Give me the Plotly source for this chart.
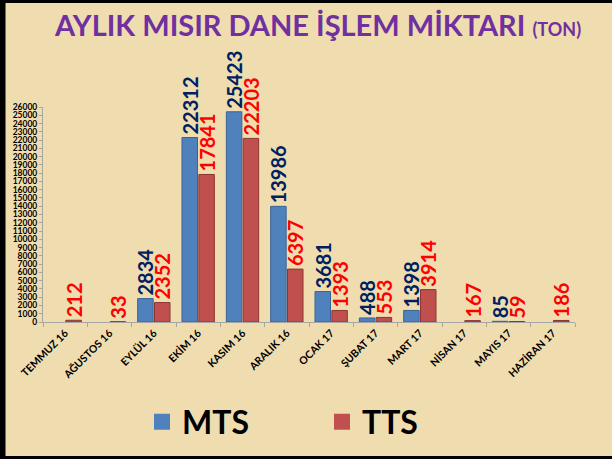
import plotly.graph_objects as go

months = ["TEMMUZ 16", "AĞUSTOS 16", "EYLÜL 16", "EKİM 16", "KASIM 16", "ARALIK 16",
          "OCAK 17", "ŞUBAT 17", "MART 17", "NİSAN 17", "MAYIS 17", "HAZİRAN 17"]
mts = [None, None, 2834, 22312, 25423, 13986, 3681, 488, 1398, None, 85, None]
tts = [212, 33, 2352, 17841, 22203, 6397, 1393, 553, 3914, 167, 59, 186]
y_ticks = list(range(0, 26001, 1000))

W, H = 612, 462
ML, MR, MT, MB = 43, 37, 107, 140
PW, PH = W - ML - MR, H - MT - MB

def px(x):
    return (x - ML) / PW

def py(y):
    return (H - MB - y) / PH

FONT = "Lato"
BLUE, RED = "#4F81BD", "#C0504D"

fig = go.Figure()
fig.add_trace(go.Bar(
    x=months, y=mts, name="MTS", marker=dict(color=BLUE, line=dict(color="#3A6496", width=1)),
    text=[f"{v}" if v is not None else "" for v in mts], textposition="outside", textangle=-90,
    textfont=dict(family=FONT, size=20, color="#002060", weight="bold"), cliponaxis=False,
    constraintext="none", showlegend=False))
fig.add_trace(go.Bar(
    x=months, y=tts, name="TTS", marker=dict(color=RED, line=dict(color="#8E3431", width=1)),
    text=[f"{v}" for v in tts], textposition="outside", textangle=-90,
    textfont=dict(family=FONT, size=20, color="#FF0000", weight="bold"), cliponaxis=False,
    constraintext="none", showlegend=False))

# legend entries
fig.add_trace(go.Scatter(x=[None], y=[None], mode="markers", name="MTS",
                         marker=dict(symbol="square", size=16, color=BLUE), legend="legend"))
fig.add_trace(go.Scatter(x=[None], y=[None], mode="markers", name="TTS",
                         marker=dict(symbol="square", size=16, color=RED), legend="legend2"))

legend_style = dict(orientation="h", bgcolor="rgba(0,0,0,0)", yanchor="middle", xanchor="left",
                    font=dict(family=FONT, size=32, color="#000000", weight="bold"),
                    itemwidth=30)

shapes = [
    dict(type="rect", xref="paper", yref="paper", x0=px(-10), x1=px(5.5), y0=py(459), y1=py(-10),
         fillcolor="#000000", line=dict(width=0), layer="above"),
    dict(type="rect", xref="paper", yref="paper", x0=px(-10), x1=px(W + 10), y0=py(3), y1=py(-10),
         fillcolor="#000000", line=dict(width=0), layer="above"),
    dict(type="rect", xref="paper", yref="paper", x0=px(-10), x1=px(W + 10), y0=py(459), y1=py(456),
         fillcolor="#000000", line=dict(width=0), layer="above"),
    dict(type="rect", xref="paper", yref="paper", x0=px(-10), x1=px(W + 10), y0=py(472), y1=py(459),
         fillcolor="#FFFFFF", line=dict(width=0), layer="above"),
]

fig.update_layout(
    width=W, height=H,
    margin=dict(l=ML, r=MR, t=MT, b=MB, autoexpand=False),
    paper_bgcolor="#EFDDB0", plot_bgcolor="rgba(0,0,0,0)",
    barmode="group", bargap=0.24, bargroupgap=0.08,
    title=dict(text="AYLIK MISIR DANE İŞLEM MİKTARI <span style='font-size:18px'>(TON)</span>",
               x=318 / W, xanchor="center", xref="container", y=1 - 26 / H, yanchor="middle",
               yref="container", font=dict(family=FONT, size=29, color="#7030A0", weight="bold")),
    xaxis=dict(tickangle=-45, tickfont=dict(family=FONT, size=10.5, color="#000000", weight="bold"),
               showline=True, linecolor="#A6A6A6", ticks="outside", tickcolor="#A6A6A6",
               ticklen=4, tickson="boundaries", showgrid=False),
    yaxis=dict(range=[0, 26000], tickvals=y_ticks, ticktext=[str(v) for v in y_ticks],
               tickfont=dict(family=FONT, size=8.5, color="#000000", weight="bold"),
               showline=True, linecolor="#A6A6A6", ticks="outside", tickcolor="#A6A6A6",
               ticklen=3, showgrid=False, zeroline=False),
    legend=dict(x=px(142), y=py(422), **legend_style),
    legend2=dict(x=px(322), y=py(422), **legend_style),
    shapes=shapes,
)

fig.write_html("out.html", config={"displayModeBar": False},
               post_script="document.body.style.margin='0';")
